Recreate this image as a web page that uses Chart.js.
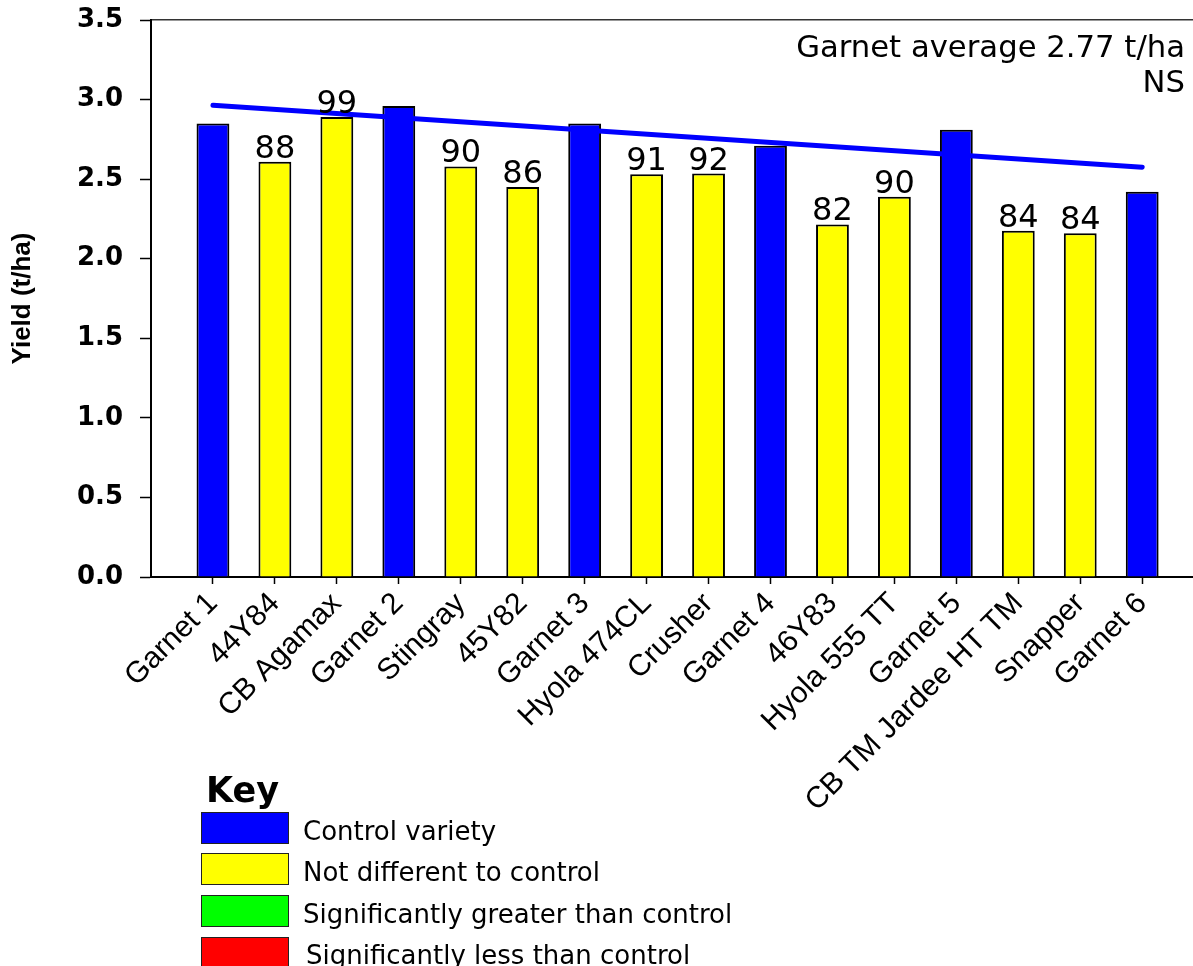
<!DOCTYPE html>
<html>
<head>
<meta charset="utf-8">
<script src="https://cdn.jsdelivr.net/npm/chart.js@4.4.1/dist/chart.umd.min.js"></script>
<style>
  html, body { margin: 0; padding: 0; background: #fff; overflow: hidden; }
  #wrap { position: relative; width: 1193px; height: 966px; }
  #c { position: absolute; left: 0; top: 0; }
  .note { position: absolute; right: 8px; top: 29px; font-family: "DejaVu Sans"; font-size: 30.7px; line-height: 35px; text-align: right; color: #000; white-space: nowrap; }
  .keytitle { position: absolute; left: 206px; top: 773px; font-family: "DejaVu Sans"; font-weight: bold; font-size: 35px; line-height: 1; color: #000; }
  .kbox { position: absolute; left: 201px; width: 86px; height: 30px; border: 1px solid #222; }
  .ktext { position: absolute; left: 303px; font-family: "DejaVu Sans"; font-size: 26px; line-height: 1; color: #000; white-space: nowrap; }
</style>
</head>
<body>
<div id="wrap">
  <canvas id="c" width="1193" height="966"></canvas>
  <div class="note">Garnet average 2.77 t/ha<br>NS</div>
  <div id="key"></div>
</div>
<script>
// ---- data ----
const categories = ['Garnet 1', '44Y84', 'CB Agamax', 'Garnet 2', 'Stingray', '45Y82', 'Garnet 3',
  'Hyola 474CL', 'Crusher', 'Garnet 4', '46Y83', 'Hyola 555 TT', 'Garnet 5', 'CB TM Jardee HT TM',
  'Snapper', 'Garnet 6'];
const yieldValues = [2.85, 2.61, 2.89, 2.96, 2.58, 2.45, 2.85, 2.53, 2.535, 2.71, 2.215, 2.39, 2.81, 2.175, 2.16, 2.42];
const groups = ['control', 'nd', 'nd', 'control', 'nd', 'nd', 'control', 'nd', 'nd', 'control', 'nd', 'nd', 'control', 'nd', 'nd', 'control'];
const pctLabels = ['', '88', '99', '', '90', '86', '', '91', '92', '', '82', '90', '', '84', '84', ''];
const trendX = [0, 15];
const trendY = [2.965, 2.575];
const yTickStep = 0.5;
const yMin = 0, yMax = 3.5;
const keyLabels = ['Control variety', 'Not different to control', 'Significantly greater than control', 'Significantly less than control'];
const keyColors = ['#0000FF', '#FFFF00', '#00FF00', '#FF0000'];
const groupColors = { control: '#0000FF', nd: '#FFFF00' };

// ---- key (HTML text) ----
const keyEl = document.getElementById('key');
const kt = document.createElement('div');
kt.className = 'keytitle'; kt.textContent = 'Key';
keyEl.appendChild(kt);
const boxTops = [812, 853, 895, 937];
const textTops = [818, 859, 901, 942];
const textLefts = [303, 303, 303, 306];
keyLabels.forEach((lab, i) => {
  const b = document.createElement('div');
  b.className = 'kbox'; b.style.top = boxTops[i] + 'px'; b.style.background = keyColors[i];
  keyEl.appendChild(b);
  const t = document.createElement('div');
  t.className = 'ktext'; t.style.top = textTops[i] + 'px'; t.style.left = textLefts[i] + 'px'; t.textContent = lab;
  keyEl.appendChild(t);
});

// ---- value label plugin ----
const valueLabels = {
  id: 'valueLabels',
  afterDatasetsDraw(chart) {
    const meta = chart.getDatasetMeta(0);
    const ctx = chart.ctx;
    ctx.save();
    ctx.font = '32px "DejaVu Sans"';
    ctx.fillStyle = '#000';
    ctx.textAlign = 'center';
    ctx.textBaseline = 'alphabetic';
    meta.data.forEach((bar, i) => {
      const t = pctLabels[i];
      if (!t) return;
      ctx.fillText(t, bar.x, bar.y - 4);
    });
    ctx.restore();
  }
};

const xMinVal = -1, xMaxVal = 15.82;

new Chart(document.getElementById('c'), {
  type: 'bar',
  data: {
    datasets: [
      {
        type: 'bar',
        data: yieldValues.map((v, i) => ({ x: i, y: v })),
        backgroundColor: groups.map(g => groupColors[g]),
        borderColor: '#000',
        borderWidth: 2,
        categoryPercentage: 1,
        barPercentage: 0.53,
        order: 1
      },
      {
        type: 'line',
        data: trendX.map((x, i) => ({ x: x, y: trendY[i] })),
        borderColor: '#0000FF',
        borderWidth: 5,
        borderCapStyle: 'round',
        pointRadius: 0,
        fill: false,
        order: 0
      }
    ]
  },
  options: {
    responsive: false,
    animation: false,
    devicePixelRatio: 1,
    layout: { padding: { top: 20, left: 0, right: 0, bottom: 0 } },
    plugins: { legend: { display: false }, tooltip: { enabled: false } },
    scales: {
      x: {
        type: 'linear', min: xMinVal, max: xMaxVal, offset: false,
        afterBuildTicks(s) {
          s.ticks = s.ticks.filter(t => Number.isInteger(t.value) && t.value >= 0 && t.value < categories.length);
        },
        afterFit(s) { s.height = 389; },
        ticks: {
          stepSize: 1, autoSkip: false, maxRotation: 45, minRotation: 45, padding: 2, color: '#000',
          font: { family: 'Liberation Sans', size: 30 },
          callback: (v) => categories[v] !== undefined ? categories[v] : ''
        },
        grid: { display: true, drawOnChartArea: false, drawTicks: true, tickLength: 7, tickColor: '#000', tickWidth: 1.5, offset: false },
        border: { display: true, color: '#000', width: 2 }
      },
      xTop: {
        type: 'linear', position: 'top', min: xMinVal, max: xMaxVal,
        afterFit(s) { s.height = 0; },
        ticks: { display: false },
        grid: { display: false, drawTicks: false },
        border: { display: true, color: '#333', width: 1.5 }
      },
      y: {
        min: yMin, max: yMax,
        afterFit(s) { s.width = 151; s.paddingTop = 0; s.paddingBottom = 0; },
        ticks: {
          stepSize: yTickStep, padding: 17, color: '#000',
          font: { family: 'DejaVu Sans', size: 26, weight: 'bold' },
          callback: (v) => Number(v).toFixed(1)
        },
        grid: { drawOnChartArea: false, drawTicks: true, tickLength: 11, tickColor: '#000', tickWidth: 1.5, offset: false },
        border: { display: true, color: '#000', width: 2 },
        title: {
          display: true, text: 'Yield (t/ha)', color: '#000',
          font: { family: 'Liberation Sans', size: 26, weight: 'bold' },
          padding: { top: 7, bottom: 0 }
        }
      }
    }
  },
  plugins: [valueLabels]
});
</script>
</body>
</html>
